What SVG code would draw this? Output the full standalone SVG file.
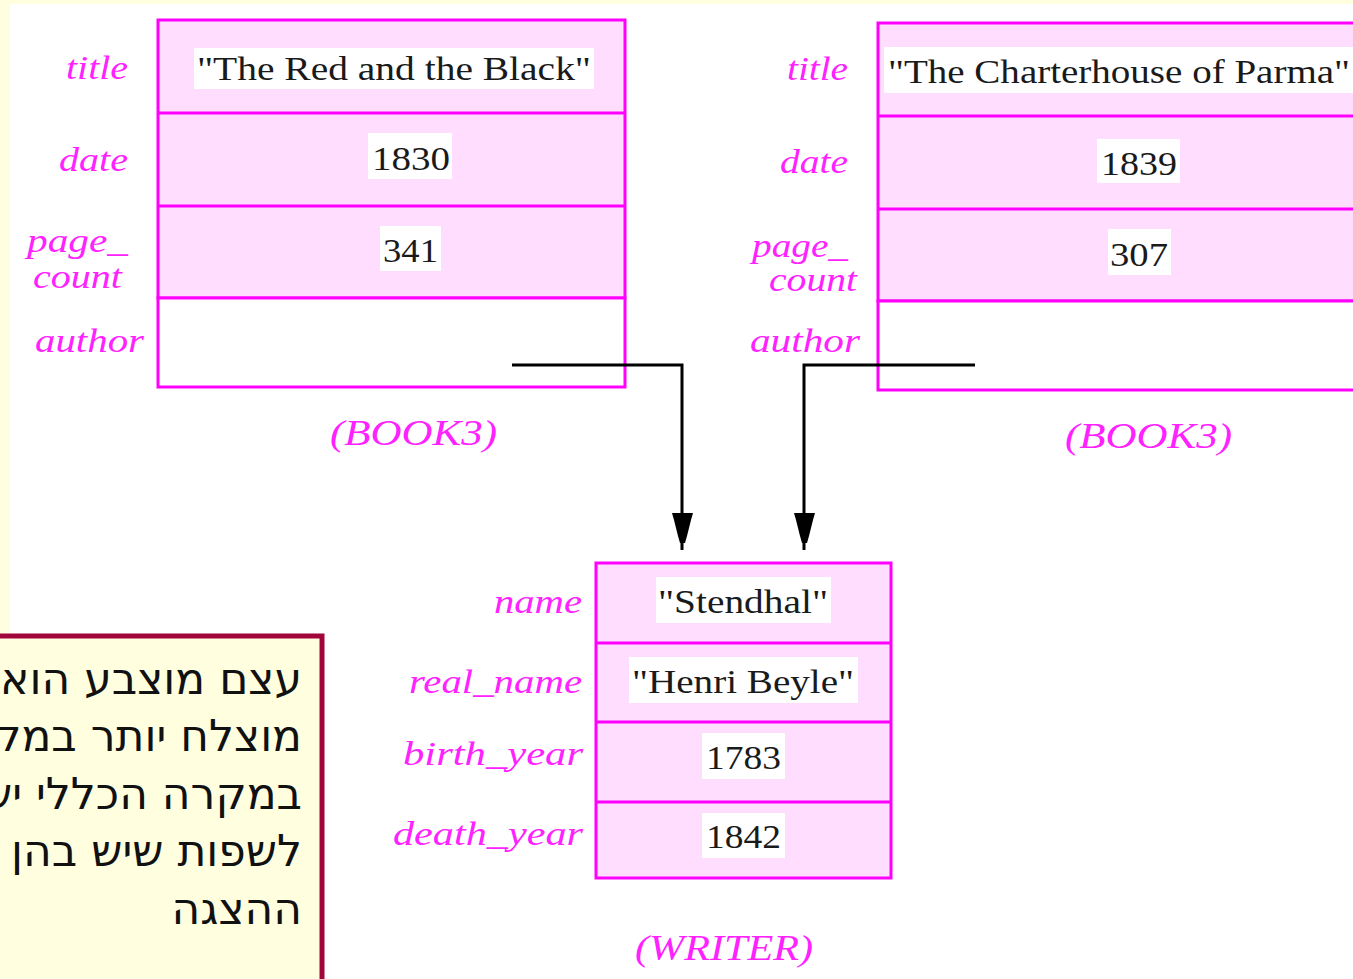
<svg xmlns="http://www.w3.org/2000/svg" width="1353" height="979" viewBox="0 0 1353 979">
<style>
.box{fill:#FFDDFF;stroke:#FF00FF;stroke-width:3}
.white{fill:#FFFFFF;stroke:#FF00FF;stroke-width:3}
.div{stroke:#FF00FF;stroke-width:3}
.vbg{fill:#FFFFFF}
.val{font-family:"Liberation Serif",serif;font-size:34px;fill:#1a1a1a}
.lbl{font-family:"Liberation Serif",serif;font-style:italic;font-size:33px;fill:#FF22FF}
.cap{font-family:"Liberation Serif",serif;font-style:italic;font-size:36px;fill:#FF22FF}
.conn{fill:none;stroke:#000;stroke-width:3}
.heb{font-family:"DejaVu Sans","Noto Sans",sans-serif;font-size:44px;fill:#111}
</style>
<defs>
<path id="ah" d="M-10,-35 H11 L9,-28 L7,-20 L5,-12 L3,-5 H-2 L-4,-12 L-6,-20 L-8,-28 Z" fill="#000"/>
</defs>
<rect x="0" y="0" width="1353" height="979" fill="#FFFFE0"/>
<rect x="10" y="4" width="1343" height="975" fill="#FFFFFF"/>

<g id="book1">
<rect class="box" x="158" y="20" width="467" height="278"/>
<rect class="white" x="158" y="298" width="467" height="89"/>
<line class="div" x1="158" y1="113" x2="625" y2="113"/>
<line class="div" x1="158" y1="206" x2="625" y2="206"/>
<rect class="vbg" x="194" y="48" width="400" height="41"/>
<text class="val" x="197" y="80" textLength="394" lengthAdjust="spacingAndGlyphs">"The Red and the Black"</text>
<rect class="vbg" x="368" y="133" width="84" height="46"/>
<text class="val" x="372" y="170" textLength="78" lengthAdjust="spacingAndGlyphs">1830</text>
<rect class="vbg" x="380" y="226" width="61" height="45"/>
<text class="val" x="383" y="262" textLength="55" lengthAdjust="spacingAndGlyphs">341</text>
<text class="lbl" x="66" y="79" textLength="62" lengthAdjust="spacingAndGlyphs">title</text>
<text class="lbl" x="59" y="171" textLength="69" lengthAdjust="spacingAndGlyphs">date</text>
<text class="lbl" x="27" y="252" textLength="101" lengthAdjust="spacingAndGlyphs">page_</text>
<text class="lbl" x="33" y="288" textLength="89" lengthAdjust="spacingAndGlyphs">count</text>
<text class="lbl" x="35" y="352" textLength="109" lengthAdjust="spacingAndGlyphs">author</text>
<text class="cap" x="330" y="445" textLength="167" lengthAdjust="spacingAndGlyphs">(BOOK3)</text>
</g>

<g id="book2">
<rect class="box" x="878" y="23" width="500" height="278"/>
<rect class="white" x="878" y="301" width="500" height="89"/>
<line class="div" x1="878" y1="116" x2="1353" y2="116"/>
<line class="div" x1="878" y1="209" x2="1353" y2="209"/>
<rect class="vbg" x="884" y="47" width="469" height="46"/>
<text class="val" x="888" y="83" textLength="462" lengthAdjust="spacingAndGlyphs">"The Charterhouse of Parma"</text>
<rect class="vbg" x="1097" y="139" width="83" height="44"/>
<text class="val" x="1101" y="175" textLength="76" lengthAdjust="spacingAndGlyphs">1839</text>
<rect class="vbg" x="1108" y="229" width="63" height="46"/>
<text class="val" x="1110" y="266" textLength="58" lengthAdjust="spacingAndGlyphs">307</text>
<text class="lbl" x="787" y="80" textLength="61" lengthAdjust="spacingAndGlyphs">title</text>
<text class="lbl" x="780" y="173" textLength="68" lengthAdjust="spacingAndGlyphs">date</text>
<text class="lbl" x="752" y="257" textLength="96" lengthAdjust="spacingAndGlyphs">page_</text>
<text class="lbl" x="769" y="291" textLength="88" lengthAdjust="spacingAndGlyphs">count</text>
<text class="lbl" x="750" y="352" textLength="110" lengthAdjust="spacingAndGlyphs">author</text>
<text class="cap" x="1065" y="448" textLength="167" lengthAdjust="spacingAndGlyphs">(BOOK3)</text>
</g>

<g id="writer">
<rect class="box" x="596" y="563" width="295" height="315"/>
<line class="div" x1="596" y1="643" x2="891" y2="643"/>
<line class="div" x1="596" y1="722" x2="891" y2="722"/>
<line class="div" x1="596" y1="802" x2="891" y2="802"/>
<rect class="vbg" x="656" y="577" width="175" height="46"/>
<text class="val" x="658" y="613" textLength="170" lengthAdjust="spacingAndGlyphs">"Stendhal"</text>
<rect class="vbg" x="629" y="657" width="229" height="46"/>
<text class="val" x="632" y="693" textLength="222" lengthAdjust="spacingAndGlyphs">"Henri Beyle"</text>
<rect class="vbg" x="702" y="733" width="83" height="46"/>
<text class="val" x="706" y="769" textLength="75" lengthAdjust="spacingAndGlyphs">1783</text>
<rect class="vbg" x="702" y="813" width="83" height="45"/>
<text class="val" x="706" y="848" textLength="75" lengthAdjust="spacingAndGlyphs">1842</text>
<text class="lbl" x="494" y="613" textLength="88" lengthAdjust="spacingAndGlyphs">name</text>
<text class="lbl" x="409" y="693" textLength="173" lengthAdjust="spacingAndGlyphs">real_name</text>
<text class="lbl" x="403" y="765" textLength="180" lengthAdjust="spacingAndGlyphs">birth_year</text>
<text class="lbl" x="393" y="845" textLength="190" lengthAdjust="spacingAndGlyphs">death_year</text>
<text class="cap" x="635" y="960" textLength="178" lengthAdjust="spacingAndGlyphs">(WRITER)</text>
</g>

<g id="connectors">
<path class="conn" d="M512,365 H682 V550"/>
<path class="conn" d="M975,365 H804 V550"/>
<use href="#ah" x="682" y="548"/>
<use href="#ah" x="804" y="548"/>
</g>

<g id="callout">
<rect x="-10" y="636" width="332" height="360" fill="#FFFFE0" stroke="#A0063A" stroke-width="5"/>
<text class="heb" x="302" y="694" text-anchor="end">עצם מוצבע הוא פתרון</text>
<text class="heb" x="302" y="751" text-anchor="end">מוצלח יותר במקרה</text>
<text class="heb" x="302" y="809" text-anchor="end">במקרה הכללי  יש</text>
<text class="heb" x="302" y="866" text-anchor="end">לשפות שיש בהן</text>
<text class="heb" x="302" y="924" text-anchor="end">ההצגה</text>
</g>
</svg>
